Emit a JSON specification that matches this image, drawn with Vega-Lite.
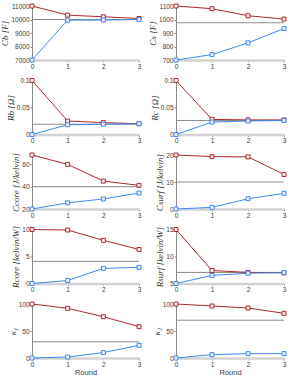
{
  "$schema": "https://vega.github.io/schema/vega-lite/v6.json",
  "padding": {"left": 0, "top": 2, "right": 2, "bottom": 0},
  "background": "white",
  "columns": 2,
  "spacing": {"row": 6.5, "column": 5},
  "config": {
    "view": {"stroke": null},
    "axis": {
      "grid": false,
      "domainColor": "#8a8a8a",
      "domainWidth": 1,
      "tickColor": "#8a8a8a",
      "tickSize": 2,
      "labelFont": "Liberation Sans",
      "labelFontSize": 6.5,
      "labelColor": "#3a3a3a",
      "labelPadding": 1,
      "labelOverlap": false,
      "labelFlush": false,
      "titleFont": "Liberation Serif",
      "titleFontStyle": "italic",
      "titleFontWeight": "normal",
      "titleFontSize": 9,
      "titleColor": "#333333",
      "titlePadding": 1
    },
    "axisX": {"domainColor": "#d2d2d2", "domainWidth": 2.5, "tickColor": "#9a9a9a", "labelPadding": 1, "titleFont": "Liberation Sans", "titleFontStyle": "normal", "titleFontSize": 7.5, "titleColor": "#404040", "titlePadding": 1},
    "line": {"strokeWidth": 1},
    "rule": {"color": "#8c8c8c", "strokeWidth": 1}
  },
  "datasets": {
    "est": [
      {"p": "Cb", "r": 0, "s": "est", "v": 11000}, {"p": "Cb", "r": 1, "s": "est", "v": 10325}, {"p": "Cb", "r": 2, "s": "est", "v": 10200}, {"p": "Cb", "r": 3, "s": "est", "v": 10075},
      {"p": "Cb", "r": 0, "s": "init", "v": 7000}, {"p": "Cb", "r": 1, "s": "init", "v": 9950}, {"p": "Cb", "r": 2, "s": "init", "v": 9960}, {"p": "Cb", "r": 3, "s": "init", "v": 10000},
      {"p": "Cs", "r": 0, "s": "est", "v": 1100}, {"p": "Cs", "r": 1, "s": "est", "v": 1080}, {"p": "Cs", "r": 2, "s": "est", "v": 1028}, {"p": "Cs", "r": 3, "s": "est", "v": 1003},
      {"p": "Cs", "r": 0, "s": "init", "v": 700}, {"p": "Cs", "r": 1, "s": "init", "v": 740}, {"p": "Cs", "r": 2, "s": "init", "v": 827}, {"p": "Cs", "r": 3, "s": "init", "v": 933},
      {"p": "Rb", "r": 0, "s": "est", "v": 0.1}, {"p": "Rb", "r": 1, "s": "est", "v": 0.025}, {"p": "Rb", "r": 2, "s": "est", "v": 0.022}, {"p": "Rb", "r": 3, "s": "est", "v": 0.02},
      {"p": "Rb", "r": 0, "s": "init", "v": 0}, {"p": "Rb", "r": 1, "s": "init", "v": 0.018}, {"p": "Rb", "r": 2, "s": "init", "v": 0.019}, {"p": "Rb", "r": 3, "s": "init", "v": 0.02},
      {"p": "Rc", "r": 0, "s": "est", "v": 0.1}, {"p": "Rc", "r": 1, "s": "est", "v": 0.028}, {"p": "Rc", "r": 2, "s": "est", "v": 0.027}, {"p": "Rc", "r": 3, "s": "est", "v": 0.027},
      {"p": "Rc", "r": 0, "s": "init", "v": 0}, {"p": "Rc", "r": 1, "s": "init", "v": 0.023}, {"p": "Rc", "r": 2, "s": "init", "v": 0.025}, {"p": "Rc", "r": 3, "s": "init", "v": 0.026},
      {"p": "Ccore", "r": 0, "s": "est", "v": 68.4}, {"p": "Ccore", "r": 1, "s": "est", "v": 60}, {"p": "Ccore", "r": 2, "s": "est", "v": 45}, {"p": "Ccore", "r": 3, "s": "est", "v": 41.2},
      {"p": "Ccore", "r": 0, "s": "init", "v": 20}, {"p": "Ccore", "r": 1, "s": "init", "v": 25.5}, {"p": "Ccore", "r": 2, "s": "init", "v": 29}, {"p": "Ccore", "r": 3, "s": "init", "v": 34.3},
      {"p": "Csurf", "r": 0, "s": "est", "v": 20}, {"p": "Csurf", "r": 1, "s": "est", "v": 19.4}, {"p": "Csurf", "r": 2, "s": "est", "v": 19.3}, {"p": "Csurf", "r": 3, "s": "est", "v": 12.8},
      {"p": "Csurf", "r": 0, "s": "init", "v": 0}, {"p": "Csurf", "r": 1, "s": "init", "v": 0.6}, {"p": "Csurf", "r": 2, "s": "init", "v": 3.8}, {"p": "Csurf", "r": 3, "s": "init", "v": 5.8},
      {"p": "Rcore", "r": 0, "s": "est", "v": 10}, {"p": "Rcore", "r": 1, "s": "est", "v": 9.9}, {"p": "Rcore", "r": 2, "s": "est", "v": 8}, {"p": "Rcore", "r": 3, "s": "est", "v": 6.3},
      {"p": "Rcore", "r": 0, "s": "init", "v": 0}, {"p": "Rcore", "r": 1, "s": "init", "v": 0.55}, {"p": "Rcore", "r": 2, "s": "init", "v": 2.8}, {"p": "Rcore", "r": 3, "s": "init", "v": 3.0},
      {"p": "Rsurf", "r": 0, "s": "est", "v": 15}, {"p": "Rsurf", "r": 1, "s": "est", "v": 7.4}, {"p": "Rsurf", "r": 2, "s": "est", "v": 7.05}, {"p": "Rsurf", "r": 3, "s": "est", "v": 7.0},
      {"p": "Rsurf", "r": 0, "s": "init", "v": 5}, {"p": "Rsurf", "r": 1, "s": "init", "v": 6.5}, {"p": "Rsurf", "r": 2, "s": "init", "v": 6.9}, {"p": "Rsurf", "r": 3, "s": "init", "v": 7.0},
      {"p": "k1", "r": 0, "s": "est", "v": 100}, {"p": "k1", "r": 1, "s": "est", "v": 92}, {"p": "k1", "r": 2, "s": "est", "v": 76.5}, {"p": "k1", "r": 3, "s": "est", "v": 58},
      {"p": "k1", "r": 0, "s": "init", "v": 0}, {"p": "k1", "r": 1, "s": "init", "v": 1.9}, {"p": "k1", "r": 2, "s": "init", "v": 10}, {"p": "k1", "r": 3, "s": "init", "v": 23.5},
      {"p": "k2", "r": 0, "s": "est", "v": 100}, {"p": "k2", "r": 1, "s": "est", "v": 96.3}, {"p": "k2", "r": 2, "s": "est", "v": 92.6}, {"p": "k2", "r": 3, "s": "est", "v": 82.7},
      {"p": "k2", "r": 0, "s": "init", "v": 0}, {"p": "k2", "r": 1, "s": "init", "v": 6.2}, {"p": "k2", "r": 2, "s": "init", "v": 8}, {"p": "k2", "r": 3, "s": "init", "v": 8}
    ],
    "truth": [
      {"p": "Cb", "v": 10000}, {"p": "Cs", "v": 976}, {"p": "Rb", "v": 0.019}, {"p": "Rc", "v": 0.026},
      {"p": "Ccore", "v": 40}, {"p": "Csurf", "v": 10}, {"p": "Rcore", "v": 4.1}, {"p": "Rsurf", "v": 7.05},
      {"p": "k1", "v": 30}, {"p": "k2", "v": 70}
    ]
  },
  "concat": [
    {"width": 107, "height": 54,
     "encoding": {"y": {"field": "v", "type": "quantitative", "scale": {"domain": [7000, 11000], "nice": false, "zero": false}, "axis": {"values": [7000, 8000, 9000, 10000, 11000], "tickCount": 5, "format": "d", "title": "Cb [F]"}}},
     "layer": [
      {"data": {"name": "truth"}, "transform": [{"filter": "datum.p === 'Cb'"}], "mark": "rule"},
      {"data": {"name": "est"}, "transform": [{"filter": "datum.p === 'Cb'"}], "mark": {"type": "line", "point": {"shape": "square", "filled": true, "fill": "#f6eeee", "size": 16, "strokeWidth": 1}},
       "encoding": {
         "x": {"field": "r", "type": "quantitative", "scale": {"domain": [0, 3], "nice": false}, "axis": {"values": [0, 1, 2, 3], "title": null}},
         "color": {"field": "s", "type": "nominal", "scale": {"domain": ["est", "init"], "range": ["#b0282c", "#3a8af5"]}, "legend": null},
         "stroke": {"field": "s", "type": "nominal", "scale": {"domain": ["est", "init"], "range": ["#b0282c", "#3a8af5"]}, "legend": null}
       }}
    ]},
    {"width": 108, "height": 54,
     "encoding": {"y": {"field": "v", "type": "quantitative", "scale": {"domain": [700, 1100], "nice": false, "zero": false}, "axis": {"values": [700, 800, 900, 1000, 1100], "tickCount": 5, "format": "d", "title": "Cs [F]"}}},
     "layer": [
      {"data": {"name": "truth"}, "transform": [{"filter": "datum.p === 'Cs'"}], "mark": "rule"},
      {"data": {"name": "est"}, "transform": [{"filter": "datum.p === 'Cs'"}], "mark": {"type": "line", "point": {"shape": "square", "filled": true, "fill": "#f6eeee", "size": 16, "strokeWidth": 1}},
       "encoding": {
         "x": {"field": "r", "type": "quantitative", "scale": {"domain": [0, 3], "nice": false}, "axis": {"values": [0, 1, 2, 3], "title": null}},
         "color": {"field": "s", "type": "nominal", "scale": {"domain": ["est", "init"], "range": ["#b0282c", "#3a8af5"]}, "legend": null},
         "stroke": {"field": "s", "type": "nominal", "scale": {"domain": ["est", "init"], "range": ["#b0282c", "#3a8af5"]}, "legend": null}
       }}
    ]},
    {"width": 107, "height": 54,
     "encoding": {"y": {"field": "v", "type": "quantitative", "scale": {"domain": [0, 0.1], "nice": false}, "axis": {"values": [0, 0.05, 0.1], "tickCount": 3, "format": "~g", "title": "Rb [Ω]"}}},
     "layer": [
      {"data": {"name": "truth"}, "transform": [{"filter": "datum.p === 'Rb'"}], "mark": "rule"},
      {"data": {"name": "est"}, "transform": [{"filter": "datum.p === 'Rb'"}], "mark": {"type": "line", "point": {"shape": "square", "filled": true, "fill": "#f6eeee", "size": 16, "strokeWidth": 1}},
       "encoding": {
         "x": {"field": "r", "type": "quantitative", "scale": {"domain": [0, 3], "nice": false}, "axis": {"values": [0, 1, 2, 3], "title": null}},
         "color": {"field": "s", "type": "nominal", "scale": {"domain": ["est", "init"], "range": ["#b0282c", "#3a8af5"]}, "legend": null},
         "stroke": {"field": "s", "type": "nominal", "scale": {"domain": ["est", "init"], "range": ["#b0282c", "#3a8af5"]}, "legend": null}
       }}
    ]},
    {"width": 108, "height": 54,
     "encoding": {"y": {"field": "v", "type": "quantitative", "scale": {"domain": [0, 0.1], "nice": false}, "axis": {"values": [0, 0.05, 0.1], "tickCount": 3, "format": "~g", "title": "Rc [Ω]"}}},
     "layer": [
      {"data": {"name": "truth"}, "transform": [{"filter": "datum.p === 'Rc'"}], "mark": "rule"},
      {"data": {"name": "est"}, "transform": [{"filter": "datum.p === 'Rc'"}], "mark": {"type": "line", "point": {"shape": "square", "filled": true, "fill": "#f6eeee", "size": 16, "strokeWidth": 1}},
       "encoding": {
         "x": {"field": "r", "type": "quantitative", "scale": {"domain": [0, 3], "nice": false}, "axis": {"values": [0, 1, 2, 3], "title": null}},
         "color": {"field": "s", "type": "nominal", "scale": {"domain": ["est", "init"], "range": ["#b0282c", "#3a8af5"]}, "legend": null},
         "stroke": {"field": "s", "type": "nominal", "scale": {"domain": ["est", "init"], "range": ["#b0282c", "#3a8af5"]}, "legend": null}
       }}
    ]},
    {"width": 107, "height": 54,
     "encoding": {"y": {"field": "v", "type": "quantitative", "scale": {"domain": [20, 68.4], "nice": false, "zero": false}, "axis": {"values": [20, 40, 60], "tickCount": 3, "title": "Ccore [J/kelvin]"}}},
     "layer": [
      {"data": {"name": "truth"}, "transform": [{"filter": "datum.p === 'Ccore'"}], "mark": "rule"},
      {"data": {"name": "est"}, "transform": [{"filter": "datum.p === 'Ccore'"}], "mark": {"type": "line", "point": {"shape": "square", "filled": true, "fill": "#f6eeee", "size": 16, "strokeWidth": 1}},
       "encoding": {
         "x": {"field": "r", "type": "quantitative", "scale": {"domain": [0, 3], "nice": false}, "axis": {"values": [0, 1, 2, 3], "title": null}},
         "color": {"field": "s", "type": "nominal", "scale": {"domain": ["est", "init"], "range": ["#b0282c", "#3a8af5"]}, "legend": null},
         "stroke": {"field": "s", "type": "nominal", "scale": {"domain": ["est", "init"], "range": ["#b0282c", "#3a8af5"]}, "legend": null}
       }}
    ]},
    {"width": 108, "height": 54,
     "encoding": {"y": {"field": "v", "type": "quantitative", "scale": {"domain": [0, 20], "nice": false}, "axis": {"values": [0, 10, 20], "tickCount": 3, "title": "Csurf [J/kelvin]"}}},
     "layer": [
      {"data": {"name": "truth"}, "transform": [{"filter": "datum.p === 'Csurf'"}], "mark": "rule"},
      {"data": {"name": "est"}, "transform": [{"filter": "datum.p === 'Csurf'"}], "mark": {"type": "line", "point": {"shape": "square", "filled": true, "fill": "#f6eeee", "size": 16, "strokeWidth": 1}},
       "encoding": {
         "x": {"field": "r", "type": "quantitative", "scale": {"domain": [0, 3], "nice": false}, "axis": {"values": [0, 1, 2, 3], "title": null}},
         "color": {"field": "s", "type": "nominal", "scale": {"domain": ["est", "init"], "range": ["#b0282c", "#3a8af5"]}, "legend": null},
         "stroke": {"field": "s", "type": "nominal", "scale": {"domain": ["est", "init"], "range": ["#b0282c", "#3a8af5"]}, "legend": null}
       }}
    ]},
    {"width": 107, "height": 54,
     "encoding": {"y": {"field": "v", "type": "quantitative", "scale": {"domain": [0, 10], "nice": false}, "axis": {"values": [0, 5, 10], "tickCount": 3, "title": "Rcore [kelvin/W]"}}},
     "layer": [
      {"data": {"name": "truth"}, "transform": [{"filter": "datum.p === 'Rcore'"}], "mark": "rule"},
      {"data": {"name": "est"}, "transform": [{"filter": "datum.p === 'Rcore'"}], "mark": {"type": "line", "point": {"shape": "square", "filled": true, "fill": "#f6eeee", "size": 16, "strokeWidth": 1}},
       "encoding": {
         "x": {"field": "r", "type": "quantitative", "scale": {"domain": [0, 3], "nice": false}, "axis": {"values": [0, 1, 2, 3], "title": null}},
         "color": {"field": "s", "type": "nominal", "scale": {"domain": ["est", "init"], "range": ["#b0282c", "#3a8af5"]}, "legend": null},
         "stroke": {"field": "s", "type": "nominal", "scale": {"domain": ["est", "init"], "range": ["#b0282c", "#3a8af5"]}, "legend": null}
       }}
    ]},
    {"width": 108, "height": 54,
     "encoding": {"y": {"field": "v", "type": "quantitative", "scale": {"domain": [5, 15], "nice": false, "zero": false}, "axis": {"values": [5, 10, 15], "tickCount": 3, "title": "Rsurf [kelvin/W]"}}},
     "layer": [
      {"data": {"name": "truth"}, "transform": [{"filter": "datum.p === 'Rsurf'"}], "mark": "rule"},
      {"data": {"name": "est"}, "transform": [{"filter": "datum.p === 'Rsurf'"}], "mark": {"type": "line", "point": {"shape": "square", "filled": true, "fill": "#f6eeee", "size": 16, "strokeWidth": 1}},
       "encoding": {
         "x": {"field": "r", "type": "quantitative", "scale": {"domain": [0, 3], "nice": false}, "axis": {"values": [0, 1, 2, 3], "title": null}},
         "color": {"field": "s", "type": "nominal", "scale": {"domain": ["est", "init"], "range": ["#b0282c", "#3a8af5"]}, "legend": null},
         "stroke": {"field": "s", "type": "nominal", "scale": {"domain": ["est", "init"], "range": ["#b0282c", "#3a8af5"]}, "legend": null}
       }}
    ]},
    {"width": 107, "height": 54,
     "encoding": {"y": {"field": "v", "type": "quantitative", "scale": {"domain": [0, 100], "nice": false}, "axis": {"values": [0, 50, 100], "tickCount": 3, "title": "κ₁"}}},
     "layer": [
      {"data": {"name": "truth"}, "transform": [{"filter": "datum.p === 'k1'"}], "mark": "rule"},
      {"data": {"name": "est"}, "transform": [{"filter": "datum.p === 'k1'"}], "mark": {"type": "line", "point": {"shape": "square", "filled": true, "fill": "#f6eeee", "size": 16, "strokeWidth": 1}},
       "encoding": {
         "x": {"field": "r", "type": "quantitative", "scale": {"domain": [0, 3], "nice": false}, "axis": {"values": [0, 1, 2, 3], "title": "Round"}},
         "color": {"field": "s", "type": "nominal", "scale": {"domain": ["est", "init"], "range": ["#b0282c", "#3a8af5"]}, "legend": null},
         "stroke": {"field": "s", "type": "nominal", "scale": {"domain": ["est", "init"], "range": ["#b0282c", "#3a8af5"]}, "legend": null}
       }}
    ]},
    {"width": 108, "height": 54,
     "encoding": {"y": {"field": "v", "type": "quantitative", "scale": {"domain": [0, 100], "nice": false}, "axis": {"values": [0, 50, 100], "tickCount": 3, "title": "κ₂"}}},
     "layer": [
      {"data": {"name": "truth"}, "transform": [{"filter": "datum.p === 'k2'"}], "mark": "rule"},
      {"data": {"name": "est"}, "transform": [{"filter": "datum.p === 'k2'"}], "mark": {"type": "line", "point": {"shape": "square", "filled": true, "fill": "#f6eeee", "size": 16, "strokeWidth": 1}},
       "encoding": {
         "x": {"field": "r", "type": "quantitative", "scale": {"domain": [0, 3], "nice": false}, "axis": {"values": [0, 1, 2, 3], "title": "Round"}},
         "color": {"field": "s", "type": "nominal", "scale": {"domain": ["est", "init"], "range": ["#b0282c", "#3a8af5"]}, "legend": null},
         "stroke": {"field": "s", "type": "nominal", "scale": {"domain": ["est", "init"], "range": ["#b0282c", "#3a8af5"]}, "legend": null}
       }}
    ]}
  ]
}
